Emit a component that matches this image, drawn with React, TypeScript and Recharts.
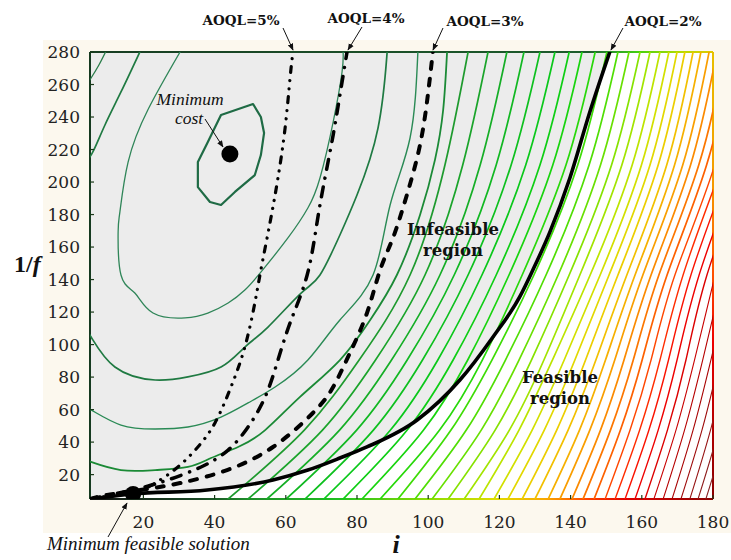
import { ComposedChart, XAxis, YAxis, CartesianGrid, Area, Scatter, ReferenceLine } from 'recharts';

// ─── Axes ───────────────────────────────────────────────────────────
const xTicks = [20, 40, 60, 80, 100, 120, 140, 160, 180];
const yTicks = [20, 40, 60, 80, 100, 120, 140, 160, 180, 200, 220, 240, 260, 280];

// ─── AOQL constraint curves [i, 1/f] ────────────────────────────────
const aoql2 = [[5, 5], [17.1, 8.1], [37.9, 10.5], [56.4, 16.7], [66.2, 22.8], [75.2, 30.2], [82.8, 37], [96.9, 53.6], [108.9, 78.2], [118.2, 104.7], [125.7, 129.3], [129.4, 145.9], [134.2, 169.3], [139.8, 202.5], [145.4, 243.1], [151, 280]];
const aoql3 = [[5, 5], [9.8, 7.5], [19, 10.5], [30.3, 14.8], [43.5, 22.8], [56.4, 37], [67.6, 57.9], [73.3, 73.9], [78, 94.8], [82.8, 119.4], [86.5, 145.9], [90.1, 165.6], [94, 192], [97.7, 222.8], [99.9, 253.5], [101.3, 280]];
const aoql4 = [[5, 5], [10.6, 7.5], [19.3, 11.8], [26.9, 16.7], [36.2, 24.7], [43.8, 35.1], [49.4, 49.3], [54.2, 67.8], [57.8, 90.5], [61.5, 115.1], [66, 142.8], [68.8, 175.4], [71, 202.5], [73.3, 228.9], [75.2, 253.5], [77.2, 280]];
const aoql5 = [[5, 5], [10.6, 6.8], [17.6, 9.3], [23.3, 14.8], [29.7, 24.7], [35.3, 37], [40.1, 51.8], [44.6, 73.9], [48.5, 98.5], [51.3, 125.6], [53, 145.9], [55.6, 175.4], [57.8, 202.5], [59.8, 233.2], [61.2, 264], [62, 280]];

// ─── Cost contours near the optimum ─────────────────────────────────
const costOval = [[41.8, 241.2], [50.8, 248], [53, 240], [53.9, 230.2], [53, 216.6], [51.3, 204.3], [45.7, 193.9], [41.8, 185.9], [38.7, 187.7], [35.3, 196.9], [35.3, 212.3], [38.1, 224.6]];
const contourA = [[9.6, 281], [7.5, 272], [5.3, 264], [3.5, 258]];
const contourC = [[30.3, 280], [21.3, 244.6], [15.7, 212.3], [13.4, 181.6], [12.9, 169.3], [13.7, 142.8], [17.6, 131.7], [22.7, 119.4], [31.7, 116.4], [38.1, 119.4], [43.8, 125.6], [48.5, 133.6], [53, 144.6], [60.6, 165.6], [66.2, 184], [69.6, 202.5], [73.3, 236.9], [75.8, 267.7], [76.1, 280]];
const contourBTop = [[19, 280], [13.7, 255.4], [9.2, 235.1], [5.8, 218.5], [3.6, 211.7]];
const contourBLow = [[3.9, 107.1], [5.3, 104.7], [12, 86.2], [23.3, 78.2], [32.5, 80.1], [41.8, 86.2], [48.5, 98.5], [55, 110.8], [64.3, 131.7], [69.6, 142.8], [75.2, 167.4], [80, 192], [85.9, 233.2], [88.4, 278.1], [88.6, 282]];
const contourD = [[3.6, 60.4], [5.3, 59.8], [13.7, 50.5], [23.3, 48.1], [32.5, 49.3], [41.8, 55.4], [49.4, 64.1], [57, 73.9], [66.2, 90.5], [75.2, 115.1], [84.5, 142.8], [89.3, 185.9], [94.9, 227.1], [97.1, 280]];
const contourE = [[3.6, 29], [5.3, 27.8], [13.7, 22.8], [23.3, 22.8], [32.5, 24.7], [39, 30.2], [46.6, 37], [54.2, 47.4], [64, 67.8], [75.2, 90.5], [83.7, 115.1], [91.2, 142.8], [97.7, 179.7], [101.9, 213.6], [104.2, 244.3], [105.3, 280]];

// outer contours, from the bottom edge to the top / right edge
const outerContours = [
  [[43.8, 5], [65.2, 47.4], [80.6, 90.5], [94.9, 142.8], [104.7, 210.5], [111.2, 280]],
  [[49.4, 5], [70.3, 47.4], [85.2, 90.5], [99.1, 142.8], [109.7, 210.5], [116.8, 280]],
  [[54.7, 5], [75.1, 47.4], [89.7, 90.5], [103.3, 142.8], [114.6, 210.5], [122.1, 280]],
  [[60.1, 5], [79.9, 47.4], [94.1, 90.5], [107.3, 142.8], [119.1, 210.5], [126.9, 280]],
  [[65.4, 5], [84.6, 47.4], [98.4, 90.5], [111.2, 142.8], [123.3, 210.5], [131.4, 280]],
  [[70.7, 5], [89.4, 47.4], [102.7, 90.5], [115.1, 142.8], [127.4, 210.5], [135.6, 280]],
  [[76.1, 5], [94.1, 47.4], [107, 90.5], [119.1, 142.8], [131.4, 210.5], [139.6, 280]],
  [[81.4, 5], [98.7, 47.4], [111.1, 90.5], [122.7, 142.8], [135, 210.5], [143.2, 280]],
  [[86.5, 5], [103.2, 47.4], [115.2, 90.5], [126.4, 142.8], [138.7, 210.5], [146.9, 280]],
  [[91.5, 5], [106.4, 47.4], [117.9, 90.5], [129.7, 142.8], [142, 210.5], [150.2, 280]],
  [[96.3, 5], [110.7, 47.4], [121.7, 90.5], [133.1, 142.8], [145.2, 210.5], [153.3, 280]],
  [[101.1, 5], [114.9, 47.4], [125.5, 90.5], [136.5, 142.8], [148.4, 210.5], [156.4, 280]],
  [[105.6, 5], [118.8, 47.4], [129, 90.5], [139.6, 142.8], [151.5, 210.5], [159.5, 280]],
  [[110.1, 5], [122.8, 47.4], [132.5, 90.5], [142.6, 142.8], [154.4, 210.5], [162.3, 280]],
  [[114.3, 5], [125.5, 47.4], [134.9, 90.5], [145.5, 142.8], [157.3, 210.5], [165.1, 280]],
  [[118.5, 5], [129.2, 47.4], [138.2, 90.5], [148.3, 142.8], [159.9, 210.5], [167.6, 280]],
  [[122.4, 5], [132.6, 47.4], [141.2, 90.5], [150.8, 142.8], [162.3, 210.5], [169.9, 280]],
  [[126.4, 5], [136.1, 47.4], [144.2, 90.5], [153.3, 142.8], [164.6, 210.5], [172.1, 280]],
  [[130, 5], [139.3, 47.4], [147.1, 90.5], [155.8, 142.8], [167, 210.5], [174.4, 280]],
  [[133.7, 5], [142.5, 47.4], [149.8, 90.5], [158.1, 142.8], [169.2, 210.5], [176.6, 280]],
  [[137, 5], [145.4, 47.4], [152.4, 90.5], [160.3, 142.8], [171.5, 210.5], [178.9, 280]],
  [[140.4, 5], [148.4, 47.4], [155, 90.5], [162.6, 142.8], [173.7, 210.5], [181.1, 280]],
  [[143.5, 5], [151.2, 47.4], [157.6, 90.5], [164.8, 142.8], [176, 210.5], [183.4, 280]],
  [[146.6, 5], [154, 47.4], [160.1, 90.5], [167.1, 142.8], [178.2, 210.5], [185.6, 280]],
  [[149.7, 5], [156.7, 47.4], [162.6, 90.5], [169.3, 142.8], [180.5, 210.5], [187.9, 280]],
  [[152.5, 5], [159.4, 47.4], [165.1, 90.5], [171.6, 142.8], [182.7, 210.5]],
  [[155.3, 5], [162, 47.4], [167.5, 90.5], [173.8, 142.8], [184.9, 210.5]],
  [[158.1, 5], [164.6, 47.4], [169.9, 90.5], [176.1, 142.8], [187.2, 210.5]],
  [[160.9, 5], [167.2, 47.4], [172.4, 90.5], [178.3, 142.8], [189.4, 210.5]],
  [[163.4, 5], [169.6, 47.4], [174.8, 90.5], [180.6, 142.8]],
  [[166, 5], [172, 47.4], [177.1, 90.5], [182.8, 142.8]],
  [[168.5, 5], [174.4, 47.4], [179.4, 90.5], [185.1, 142.8]],
  [[171, 5], [176.9, 47.4], [181.8, 90.5], [187.3, 142.8]],
  [[173.5, 5], [179.3, 47.4], [184.1, 90.5]],
  [[175.8, 5], [181.6, 47.4], [186.3, 90.5]],
  [[178, 5], [183.8, 47.4], [188.6, 90.5]],
];

const outerColors = [
  '#1e9a2e', '#1aa42a', '#15ae26', '#11b822', '#0dc01e', '#0ac81a', '#0ece14', '#18d40e', '#28d80a', '#3edc06',
  '#50de04', '#68e002', '#86e200', '#a2e400', '#bce400', '#d2e000', '#e2d800', '#ecce00', '#f2c000', '#f6b000',
  '#f99e00', '#fb8a00', '#fc7600', '#fd6000', '#ff4600', '#ff2c00', '#fa1200', '#ee0000', '#dc0000', '#c80000',
  '#b60000', '#a80404', '#9e0c0c', '#961414', '#8e1c1c', '#882424',
];

// ─── Marked solutions ───────────────────────────────────────────────
const minimumCost = [[44.3, 217.2]];
const minimumFeasible = [[17.1, 8.1]];

const toPoints = (arr: number[][]) => arr.map(([x, y]) => ({ x, y }));
const noMarker = () => <g />;

function contour(key: string, arr: number[][], color: string, width: number, joint = 'natural', dash?: string) {
  return (
    <Scatter
      key={key}
      data={toPoints(arr)}
      shape={noMarker}
      line={{ stroke: color, strokeWidth: width, strokeDasharray: dash, strokeLinecap: 'round', strokeLinejoin: 'round' }}
      lineJointType={joint as any}
      isAnimationActive={false}
    />
  );
}

function XTick(props: any) {
  const { x, y, payload } = props;
  return (
    <g>
      <line x1={x} x2={x} y1={y} y2={y - 4} stroke="#1a3a1a" strokeWidth={1.2} />
      <text x={x} y={y + 29} textAnchor="middle" fontFamily="DejaVu Serif" fontSize={17} fill="#222">{payload.value}</text>
    </g>
  );
}

function YTick(props: any) {
  const { x, y, payload } = props;
  return (
    <g>
      <line x1={x} x2={x + 4} y1={y} y2={y} stroke="#1a3a1a" strokeWidth={1.2} />
      <text x={x - 10} y={y + 6} textAnchor="end" fontFamily="DejaVu Serif" fontSize={17} fill="#222">{payload.value}</text>
    </g>
  );
}

const dot = (r: number) => (p: any) => <circle cx={p.cx} cy={p.cy} r={r} fill="#000" />;

export default function App() {
  return (
    <div style={{ position: 'absolute', left: 0, top: 0, width: 731, height: 560, background: '#ffffff' }}>
      <div style={{ position: 'absolute', left: 43, top: 40, width: 688, height: 493, background: '#fcf8ee' }} />
      <div style={{ position: 'absolute', left: 0, top: 0 }}>
        <ComposedChart width={731} height={560} data={toPoints(aoql2)} margin={{ top: 52, right: 18, bottom: 0, left: 0 }}>
          <CartesianGrid horizontal={false} vertical={false} fill="#ffffff" />
          <XAxis type="number" dataKey="x" domain={[5, 180]} ticks={xTicks} interval={0} allowDataOverflow
            height={61} tickSize={0} tickMargin={0} axisLine={false} tickLine={false} tick={<XTick />} />
          <YAxis type="number" dataKey="y" domain={[5, 280]} ticks={yTicks} interval={0} allowDataOverflow
            width={90} tickSize={0} tickMargin={0} axisLine={false} tickLine={false} tick={<YTick />} />

          {/* infeasible region: above the AOQL=2% curve */}
          <Area dataKey="y" type="monotoneX" baseValue="dataMax"
            fill="#ececec" fillOpacity={1} stroke="none" isAnimationActive={false} />

          {contour('oval', costOval, '#1f6b45', 2.2, 'linearClosed')}
          {contour('a', contourA, '#2a7d4a', 1.3)}
          {contour('c', contourC, '#2f8558', 1.3)}
          {contour('b1', contourBTop, '#1f7a42', 1.7)}
          {contour('b2', contourBLow, '#1f7a42', 1.7)}
          {contour('d', contourD, '#2a8a55', 1.4)}
          {contour('e', contourE, '#1b8a36', 1.8)}
          {outerContours.map((c, i) => contour(`o${i}`, c, outerColors[i], i < 24 ? 1.7 : i < 29 ? 1.4 : 1.1))}

          {contour('aoql5', aoql5, '#000', 3.2, 'natural', '6 8 0.1 8 0.1 8')}
          {contour('aoql4', aoql4, '#000', 3.5, 'natural', '10 9 0.1 9')}
          {contour('aoql3', aoql3, '#000', 4, 'natural', '7 10')}
          {contour('aoql2', aoql2, '#000', 3.6, 'monotoneX')}

          <Scatter data={toPoints(minimumCost)} shape={dot(8.5)} isAnimationActive={false} />
          <Scatter data={toPoints(minimumFeasible)} shape={dot(8)} isAnimationActive={false} />

          <ReferenceLine x={5} stroke="#163a20" strokeWidth={2} />
          <ReferenceLine y={280} stroke="url(#frameTop)" strokeWidth={2} />
          <ReferenceLine x={180} stroke="url(#frameRight)" strokeWidth={2} />
          <ReferenceLine y={5} stroke="url(#frameBottom)" strokeWidth={2} />
        </ComposedChart>
      </div>

      <svg width={731} height={560} style={{ position: 'absolute', left: 0, top: 0, pointerEvents: 'none' }}>
        <defs>
          <marker id="arrowHead" viewBox="0 0 10 10" refX="9" refY="5" markerWidth="7" markerHeight="7" markerUnits="userSpaceOnUse" orient="auto">
            <path d="M0,1 L10,5 L0,9 z" fill="#111" />
          </marker>
          <linearGradient id="frameTop" gradientUnits="userSpaceOnUse" x1="90" y1="0" x2="713" y2="0">
            <stop offset="0" stopColor="#173d22" />
            <stop offset="0.8" stopColor="#1d5c2c" />
            <stop offset="0.84" stopColor="#2a9a2a" />
            <stop offset="0.88" stopColor="#44d010" />
            <stop offset="0.95" stopColor="#b8dc00" />
            <stop offset="1" stopColor="#e0c800" />
          </linearGradient>
          <linearGradient id="frameRight" gradientUnits="userSpaceOnUse" x1="0" y1="52" x2="0" y2="499">
            <stop offset="0" stopColor="#e8c000" />
            <stop offset="0.3" stopColor="#f59a00" />
            <stop offset="0.5" stopColor="#ff5000" />
            <stop offset="0.65" stopColor="#ee0000" />
            <stop offset="0.85" stopColor="#b00000" />
            <stop offset="1" stopColor="#8a0000" />
          </linearGradient>
          <linearGradient id="frameBottom" gradientUnits="userSpaceOnUse" x1="90" y1="0" x2="713" y2="0">
            <stop offset="0" stopColor="#111" />
            <stop offset="0.18" stopColor="#1a4a25" />
            <stop offset="0.25" stopColor="#1e8a2a" />
            <stop offset="0.4" stopColor="#20c020" />
            <stop offset="0.55" stopColor="#90dc00" />
            <stop offset="0.65" stopColor="#e0dc00" />
            <stop offset="0.73" stopColor="#f8a800" />
            <stop offset="0.8" stopColor="#ff4000" />
            <stop offset="0.86" stopColor="#e00000" />
            <stop offset="1" stopColor="#8a0000" />
          </linearGradient>
        </defs>

        {/* AOQL labels */}
        <g fontFamily="DejaVu Serif" fontWeight="bold" fontSize={13.5} fill="#111" textAnchor="middle">
          <text x={241} y={25}>AOQL=5%</text>
          <text x={366} y={23}>AOQL=4%</text>
          <text x={485} y={26}>AOQL=3%</text>
          <text x={663} y={26}>AOQL=2%</text>
        </g>
        <g stroke="#111" strokeWidth={1}>
          <line x1={283} y1={28} x2={293} y2={50} markerEnd="url(#arrowHead)" />
          <line x1={362} y1={27} x2={348} y2={50} markerEnd="url(#arrowHead)" />
          <line x1={443} y1={28} x2={433} y2={50} markerEnd="url(#arrowHead)" />
          <line x1={623} y1={28} x2={611} y2={50} markerEnd="url(#arrowHead)" />
          <line x1={205} y1={119} x2={223} y2={147} markerEnd="url(#arrowHead)" />
          <line x1={108} y1={537} x2={127} y2={503} markerEnd="url(#arrowHead)" />
        </g>

        {/* annotations */}
        <g fontFamily="Liberation Serif" fontStyle="italic" fill="#111">
          <text x={190} y={105} textAnchor="middle" fontSize={17.5}>Minimum</text>
          <text x={189} y={124} textAnchor="middle" fontSize={17.5}>cost</text>
          <text x={47} y={550} fontSize={19}>Minimum feasible solution</text>
        </g>
        <g fontFamily="DejaVu Serif" fontWeight="bold" fontSize={16.5} fill="#111" textAnchor="middle">
          <text x={453} y={235}>Infeasible</text>
          <text x={453} y={256}>region</text>
          <text x={560} y={383}>Feasible</text>
          <text x={560} y={404}>region</text>
        </g>

        {/* axis titles */}
        <text x={14} y={272} fontFamily="Liberation Serif" fontWeight="bold" fontSize={24} fill="#111">
          1/<tspan fontStyle="italic">f</tspan>
        </text>
        <text x={396} y={553} textAnchor="middle" fontFamily="Liberation Serif" fontWeight="bold" fontStyle="italic" fontSize={26} fill="#111">i</text>
      </svg>
    </div>
  );
}
